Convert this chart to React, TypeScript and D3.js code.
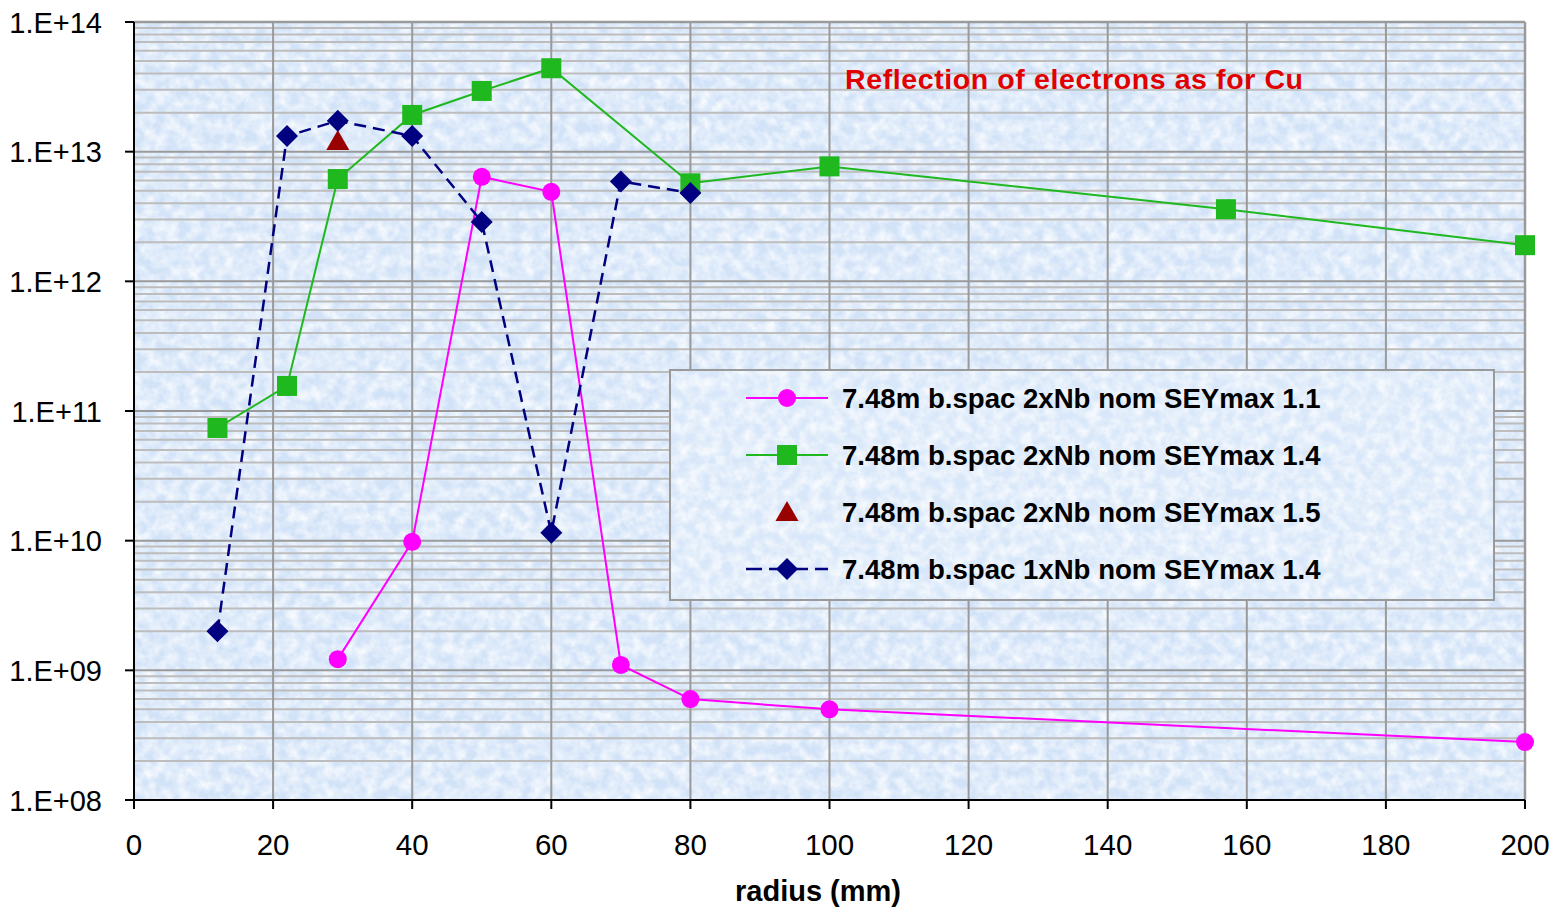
import React from "react";
import * as d3 from "d3";

const seriesNames = [
  "7.48m b.spac 2xNb nom SEYmax 1.1",
  "7.48m b.spac 2xNb nom SEYmax 1.4",
  "7.48m b.spac 2xNb nom SEYmax 1.5",
  "7.48m b.spac 1xNb nom SEYmax 1.4",
];

const sey11X = [29.3, 40, 50, 60, 70, 80, 100, 200];
const sey11Y = [1.22e9, 9.8e9, 6.4e12, 4.9e12, 1.1e9, 6.0e8, 5.0e8, 2.8e8];

const sey14X = [12, 22, 29.3, 40, 50, 60, 80, 100, 157, 200];
const sey14Y = [7.4e10, 1.56e11, 6.15e12, 1.92e13, 2.94e13, 4.4e13, 5.7e12, 7.7e12, 3.6e12, 1.9e12];

const sey15X = [29.3];
const sey15Y = [1.21e13];

const oneNbX = [12, 22, 29.3, 40, 50, 60, 70, 80];
const oneNbY = [2.0e9, 1.32e13, 1.73e13, 1.32e13, 2.87e12, 1.15e10, 5.9e12, 4.8e12];

const xTicks = [0, 20, 40, 60, 80, 100, 120, 140, 160, 180, 200];
const yTicks = [1e8, 1e9, 1e10, 1e11, 1e12, 1e13, 1e14];
const yTickLabels = ["1.E+08", "1.E+09", "1.E+10", "1.E+11", "1.E+12", "1.E+13", "1.E+14"];

const annotation = "Reflection of electrons as for Cu";
const xTitle = "radius (mm)";

export default function App() {
  const W = 1550, H = 909;
  const L = 134, R = 1525, T = 22, B = 800;
  const x = d3.scaleLinear().domain([0, 200]).range([L, R]);
  const y = d3.scaleLog().domain([1e8, 1e14]).range([B, T]);

  const minor: number[] = [];
  for (let e = 8; e < 14; e++) for (let m = 2; m <= 9; m++) minor.push(m * Math.pow(10, e));

  const line = d3.line<[number, number]>().x((d) => x(d[0])).y((d) => y(d[1]));
  const zip = (a: number[], b: number[]) => a.map((v, i) => [v, b[i]] as [number, number]);

  const magenta = "#ff00ff", green = "#1fb81f", red = "#990000", navy = "#000080";
  const font = "Arial, 'Liberation Sans', Helvetica, sans-serif";

  const circle = (cx: number, cy: number, k: string) => (
    <circle key={k} cx={cx} cy={cy} r={9} fill={magenta} />
  );
  const square = (cx: number, cy: number, k: string) => (
    <rect key={k} x={cx - 10} y={cy - 10} width={20} height={20} fill={green} />
  );
  const tri = (cx: number, cy: number, k: string) => (
    <path key={k} d={`M${cx},${cy - 11}L${cx + 11.5},${cy + 9}L${cx - 11.5},${cy + 9}Z`} fill={red} />
  );
  const diamond = (cx: number, cy: number, k: string) => (
    <path key={k} d={`M${cx},${cy - 11}L${cx + 11},${cy}L${cx},${cy + 11}L${cx - 11},${cy}Z`} fill={navy} />
  );

  const legendRows = [
    { name: seriesNames[0], color: magenta, dash: undefined as string | undefined, mk: circle, line: true },
    { name: seriesNames[1], color: green, dash: undefined, mk: square, line: true },
    { name: seriesNames[2], color: red, dash: undefined, mk: tri, line: false },
    { name: seriesNames[3], color: navy, dash: "16,7", mk: diamond, line: true },
  ];
  const legY = [398, 455, 512, 569];

  return (
    <svg width={W} height={H} style={{ position: "absolute", left: 0, top: 0, background: "#fff" }} fontFamily={font}>
      <defs>
        <filter id="tex" x="0" y="0" width="100%" height="100%">
          <feTurbulence type="fractalNoise" baseFrequency="0.09" numOctaves={3} seed={7} result="n" />
          <feColorMatrix in="n" type="matrix" values="0 0 0 0 1  0 0 0 0 1  0 0 0 0 1  1.8 0 0 0 -0.55" />
        </filter>
      </defs>
      {/* plot background */}
      <rect x={L} y={T} width={R - L} height={B - T} fill="#d2e3f8" />
      <rect x={L} y={T} width={R - L} height={B - T} fill="#fff" filter="url(#tex)" opacity={0.85} />
      {/* minor grid */}
      {minor.map((v, i) => (
        <line key={"mn" + i} x1={L} x2={R} y1={y(v)} y2={y(v)} stroke="#bdbdbd" strokeWidth={2} />
      ))}
      {yTicks.map((v, i) => (
        <line key={"mj" + i} x1={L} x2={R} y1={y(v)} y2={y(v)} stroke="#9a9a9a" strokeWidth={2} />
      ))}
      {xTicks.map((v, i) => (
        <line key={"vx" + i} x1={x(v)} x2={x(v)} y1={T} y2={B} stroke="#9a9a9a" strokeWidth={2} />
      ))}
      {/* border top/right */}
      <line x1={L} x2={R} y1={T} y2={T} stroke="#9a9a9a" strokeWidth={2.5} />
      <line x1={R} x2={R} y1={T} y2={B} stroke="#9a9a9a" strokeWidth={2.5} />
      {/* axes */}
      <line x1={L} x2={L} y1={T} y2={B} stroke="#000" strokeWidth={2} />
      <line x1={L} x2={R} y1={B} y2={B} stroke="#000" strokeWidth={2} />
      {yTicks.map((v, i) => (
        <line key={"yt" + i} x1={L - 9} x2={L} y1={y(v)} y2={y(v)} stroke="#000" strokeWidth={2} />
      ))}
      {xTicks.map((v, i) => (
        <line key={"xt" + i} x1={x(v)} x2={x(v)} y1={B} y2={B + 9} stroke="#000" strokeWidth={2} />
      ))}
      {yTicks.map((v, i) => (
        <text key={"yl" + i} x={102} y={y(v) + 10.5} textAnchor="end" fontSize={29} fill="#000">
          {yTickLabels[i]}
        </text>
      ))}
      {xTicks.map((v, i) => (
        <text key={"xl" + i} x={x(v)} y={855} textAnchor="middle" fontSize={29.5} fill="#000">
          {v}
        </text>
      ))}
      <text x={818} y={901} textAnchor="middle" fontSize={29} fontWeight="bold" fill="#000">
        {xTitle}
      </text>
      {/* series lines */}
      <path d={line(zip(sey14X, sey14Y)) || ""} fill="none" stroke={green} strokeWidth={2} />
      <path d={line(zip(sey11X, sey11Y)) || ""} fill="none" stroke={magenta} strokeWidth={2} />
      <path d={line(zip(oneNbX, oneNbY)) || ""} fill="none" stroke={navy} strokeWidth={2.5} strokeDasharray="12,7" />
      {/* markers */}
      {sey14X.map((v, i) => square(x(v), y(sey14Y[i]), "s" + i))}
      {sey11X.map((v, i) => circle(x(v), y(sey11Y[i]), "c" + i))}
      {sey15X.map((v, i) => tri(x(v), y(sey15Y[i]), "t" + i))}
      {oneNbX.map((v, i) => diamond(x(v), y(oneNbY[i]), "d" + i))}
      {/* annotation */}
      <text x={845} y={89} fontSize={28.5} fontWeight="bold" fill="#e00000" textLength={458} lengthAdjust="spacing">
        {annotation}
      </text>
      {/* legend */}
      <rect x={670} y={370} width={824} height={230} fill="#d8e7f9" />
      <rect x={670} y={370} width={824} height={230} fill="#fff" filter="url(#tex)" opacity={0.85} />
      <rect x={670} y={370} width={824} height={230} fill="none" stroke="#9a9a9a" strokeWidth={2} />
      {legendRows.map((r, i) => (
        <g key={"lg" + i}>
          {r.line && (
            <line x1={746} x2={828} y1={legY[i]} y2={legY[i]} stroke={r.color} strokeWidth={r.dash ? 2.5 : 2} strokeDasharray={r.dash} />
          )}
          {r.mk(787, legY[i], "lm" + i)}
          <text x={842} y={legY[i] + 10} fontSize={27.6} fontWeight="bold" fill="#000">
            {r.name}
          </text>
        </g>
      ))}
    </svg>
  );
}
